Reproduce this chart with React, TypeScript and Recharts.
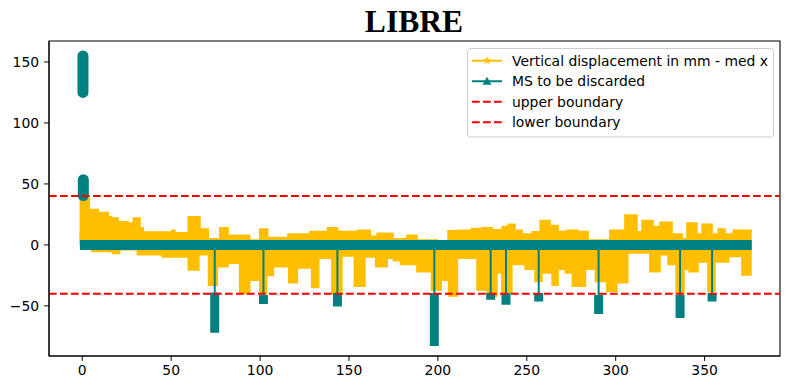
import React from "react";
import {
  ComposedChart,
  Area,
  Line,
  XAxis,
  YAxis,
  ReferenceLine,
  ReferenceArea,
  Legend,
} from "recharts";

const YELLOW = "#ffbf00";
const TEAL = "#008080";

const xTicks = [0, 50, 100, 150, 200, 250, 300, 350];
const yTicks = [-50, 0, 50, 100, 150];
const xDomain: [number, number] = [-18.7, 392.4];
const yDomain: [number, number] = [-91.1, 167.2];

// yellow envelope, above zero
const upperX = [-1.5, 4, 9, 14.6, 16.5, 20.2, 25.9, 28.7, 32.5, 34.3, 50.3, 52.1, 59.6, 66.2, 70.9, 77.3, 82, 94.2, 99.8, 104.3, 115.7, 128, 138, 143.6, 154.7, 162, 165.9, 174.8, 182.6, 188.3, 200, 205.7, 211.4, 219, 224.9, 230.6, 236.2, 239.5, 243.4, 247.4, 253, 257.5, 263.1, 267.6, 272.7, 278.9, 284.5, 296.7, 305.2, 312, 314.8, 321, 324.9, 331.7, 337.3, 340.1, 345.7, 348.6, 354.2, 357.6, 361.5, 366, 376.5];
const upperY = [38, 29, 26.5, 23, 22, 19, 18, 22, 14, 10.5, 12, 10, 23, 13, 5, 14, 8, 4, 13, 6, 9, 11, 14, 11, 12, 7, 9.5, 5, 8, 4, 2, 11.7, 12, 13.5, 14, 12.5, 15, 17, 12, 9, 10.7, 20, 16, 11, 12, 11, 4, 12, 24.6, 10.7, 20, 15, 18.6, 9, 5, 18, 9, 17, 9, 13, 9, 12, 12];

// yellow envelope, below zero
const lowerX = [-1.5, 5.5, 17, 21, 31, 45, 59.6, 65.6, 71, 76, 82, 88.5, 94.2, 99.8, 103.7, 107.5, 116.1, 121, 129, 133, 140.4, 146, 153, 159, 165, 171.5, 175, 178.9, 188.2, 196.4, 201.9, 206, 211, 222, 227.6, 233.2, 236, 241.6, 249, 254.6, 258.5, 264.2, 267.6, 271.7, 275.6, 283, 288.6, 295, 300.6, 306.8, 319.2, 324.9, 329.4, 334, 338.4, 341.3, 346.3, 351.9, 355.8, 363.6, 371, 376.5];
const lowerY = [10, -5.5, -7, -4, -8, -10, -20.5, -8, -33, -18, -15, -40, -29, -40, -25, -18, -31, -19, -35, -11, -40, -9, -34, -10, -18, -11, -13, -16, -22, -37, -29, -42, -11, -37, -42, -23, -39, -16, -20, -30, -23, -33, -20, -23, -34, -20, -30, -38, -31, -6.6, -22, -8, -16, -40, -20, -22, -14, -38, -14, -9.6, -24.6, -24.6];

// teal series
const zeroX = [-1.3, 376.5];
const spikeX = [74.5, 101.9, 143.5, 198, 229.7, 238.3, 256.7, 290.4, 336.2, 354.2];
const blobTop = [-39, -41, -39.5, -39.5, -39.5, -39.5, -39.5, -41, -41, -39.5];
const blobBottom = [-72, -48.5, -50.6, -83, -45, -49, -46.5, -56.7, -60, -46.5];
const earlyX = [0.4, 0.6];
const earlyTop = [155, 53.5];
const earlyBottom = [125, 40.5];

const boundaries = [40, -40];
const legendLabels = [
  "Vertical displacement in mm - med x",
  "MS to be discarded",
  "upper boundary",
  "lower boundary",
];

const upperData = upperX.map((x, i) => ({ x, y: upperY[i] }));
const lowerData = lowerX.map((x, i) => ({ x, y: lowerY[i] }));
const zeroData = zeroX.map((x) => ({ x, y: 0 }));
const spikeData = spikeX.flatMap((x, i) => [
  { x, y: 0 },
  { x, y: blobTop[i] },
  { x, y: null },
]);
const blobData = spikeX.flatMap((x, i) => [
  { x, y: blobTop[i] },
  { x, y: blobBottom[i] },
  { x, y: null },
]);
const earlyData = earlyX.flatMap((x, i) => [
  { x, y: earlyTop[i] },
  { x, y: earlyBottom[i] },
  { x, y: null },
]);

const fmt = (v: number) => String(v).replace("-", "\u2212");

function starPoints(cx: number, cy: number, r: number) {
  const pts: string[] = [];
  for (let k = 0; k < 10; k++) {
    const rr = k % 2 === 0 ? r : r * 0.4;
    const a = -Math.PI / 2 + (k * Math.PI) / 5;
    pts.push(`${cx + rr * Math.cos(a)},${cy + rr * Math.sin(a)}`);
  }
  return pts.join(" ");
}

function LegendBox() {
  const rowY = (i: number) => 12.7 + i * 20.55;
  return (
    <svg width={308} height={91} style={{ display: "block" }}>
      <rect x={0.5} y={0.5} width={306} height={88.5} rx={3} fill="#fff" fillOpacity={0.8} stroke="#cccccc" />
      <line x1={5} x2={35} y1={rowY(0)} y2={rowY(0)} stroke={YELLOW} strokeWidth={2} />
      <polygon points={starPoints(20, rowY(0), 4.5)} fill={YELLOW} />
      <line x1={5} x2={35} y1={rowY(1)} y2={rowY(1)} stroke={TEAL} strokeWidth={2} />
      <polygon points={`20,${rowY(1) - 4.5} 24.5,${rowY(1) + 3.5} 15.5,${rowY(1) + 3.5}`} fill={TEAL} />
      <line x1={5} x2={35} y1={rowY(2)} y2={rowY(2)} stroke="red" strokeWidth={2} strokeDasharray="7.7 3.3" />
      <line x1={5} x2={35} y1={rowY(3)} y2={rowY(3)} stroke="red" strokeWidth={2} strokeDasharray="7.7 3.3" />
      {legendLabels.map((t, i) => (
        <text key={t} x={45} y={rowY(i)} dy="0.36em" fontSize={13.9} fontFamily="DejaVu Sans" fill="#000">
          {t}
        </text>
      ))}
    </svg>
  );
}

export default function App() {
  const tickStyle = { fontSize: 13.9, fill: "#000", fontFamily: "DejaVu Sans" };
  return (
    <div style={{ position: "absolute", left: 0, top: 0, width: 790, height: 390, background: "#fff" }}>
      <svg width={790} height={45} style={{ position: "absolute", left: 0, top: 0 }}>
        <text x={414} y={32} textAnchor="middle" fontSize={31.6} fontWeight="bold" fontFamily="Liberation Serif" fill="#000">
          LIBRE
        </text>
      </svg>
      <ComposedChart width={790} height={390} margin={{ top: 41, right: 10, bottom: 0, left: 0 }}>
        <XAxis
          type="number"
          dataKey="x"
          domain={xDomain}
          allowDataOverflow
          ticks={xTicks}
          tickFormatter={fmt}
          tick={tickStyle}
          tickSize={4.9}
          tickMargin={4}
          height={34}
          stroke="#000"
        />
        <YAxis
          type="number"
          dataKey="y"
          domain={yDomain}
          allowDataOverflow
          ticks={yTicks}
          tickFormatter={fmt}
          tick={tickStyle}
          tickSize={4.9}
          tickMargin={5}
          width={49}
          stroke="#000"
        />
        <Area data={upperData} dataKey="y" type="stepAfter" baseValue={0} fill={YELLOW} fillOpacity={1} stroke={YELLOW} strokeWidth={1.5} isAnimationActive={false} />
        <Area data={lowerData} dataKey="y" type="stepAfter" baseValue={0} fill={YELLOW} fillOpacity={1} stroke={YELLOW} strokeWidth={1.5} isAnimationActive={false} />
        <Line data={spikeData} dataKey="y" stroke={TEAL} strokeWidth={2} dot={false} isAnimationActive={false} />
        <Line data={zeroData} dataKey="y" stroke={TEAL} strokeWidth={10} strokeLinecap="butt" dot={false} isAnimationActive={false} />
        <Line data={blobData} dataKey="y" stroke={TEAL} strokeWidth={9} strokeLinecap="butt" dot={false} isAnimationActive={false} />
        <Line data={earlyData} dataKey="y" stroke={TEAL} strokeWidth={11} strokeLinecap="round" dot={false} isAnimationActive={false} />
        {boundaries.map((b) => (
          <ReferenceLine key={b} y={b} stroke="red" strokeWidth={2} strokeDasharray="7.7 3.3" />
        ))}
        <ReferenceArea x1={xDomain[0]} x2={xDomain[1]} y1={yDomain[0]} y2={yDomain[1]} fill="none" stroke="#000" strokeWidth={1.1} />
        <Legend
          layout="vertical"
          align="center"
          verticalAlign="middle"
          content={() => <LegendBox />}
          wrapperStyle={{ position: "absolute", left: 467, top: 48, width: 308, height: 91 }}
        />
      </ComposedChart>
    </div>
  );
}
